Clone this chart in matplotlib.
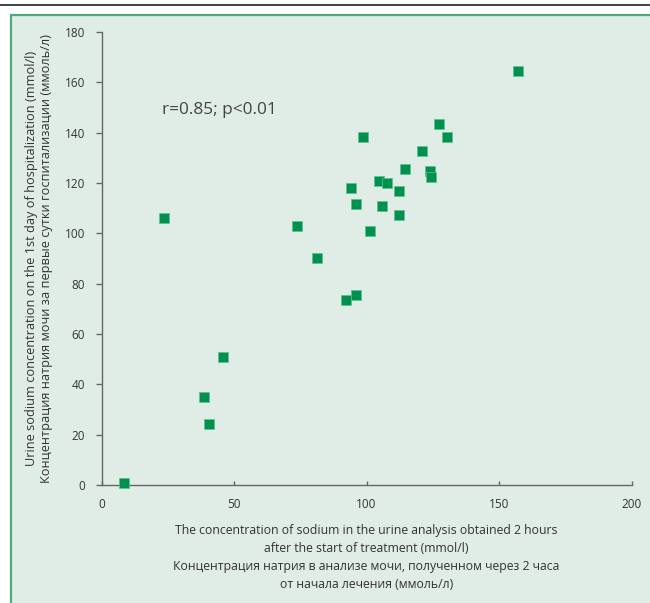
import matplotlib
matplotlib.use("Agg")
import matplotlib.pyplot as plt
from matplotlib.patches import Rectangle
from matplotlib.lines import Line2D

x_vals = [8.4, 23.4, 38.6, 40.5, 45.8, 73.7, 81.5, 92.2, 96.0, 94.1, 96.1, 98.6,
          101.4, 104.9, 105.9, 107.8, 112.2, 112.2, 114.5, 120.9, 123.9, 124.4,
          127.3, 130.2, 157.0]
y_vals = [0.9, 106.2, 34.8, 24.1, 50.7, 103.0, 90.2, 73.4, 75.4, 118.0, 111.8, 138.4,
          101.0, 120.9, 110.7, 120.0, 116.9, 107.1, 125.5, 132.8, 124.6, 122.5,
          143.5, 138.4, 164.6]
x_ticks = [0, 50, 100, 150, 200]
y_ticks = [0, 20, 40, 60, 80, 100, 120, 140, 160, 180]
annotation = "r=0.85; p<0.01"
ylabel = ("Urine sodium concentration on the 1st day of hospitalization (mmol/l)\n"
          "Концентрация натрия мочи за первые сутки госпитализации (ммоль/л)")
xlabel = ("The concentration of sodium in the urine analysis obtained 2 hours\n"
          "after the start of treatment (mmol/l)\n"
          "Концентрация натрия в анализе мочи, полученном через 2 часа\n"
          "от начала лечения (ммоль/л)")

plt.rcParams['font.family'] = ['Open Sans', 'DejaVu Sans']

W, H = 650, 603
fig = plt.figure(figsize=(W / 100, H / 100), dpi=100, facecolor='white')

# panel background
fig.patches.append(Rectangle((10.5 / W, -0.01), 1.0, 1 - 14.5 / H + 0.01,
                             transform=fig.transFigure, facecolor='#e0ede6',
                             edgecolor='#4caa7c', linewidth=1.6, zorder=-10))
fig.lines.append(Line2D([0, 1], [1 - 5 / H, 1 - 5 / H], transform=fig.transFigure,
                        color='#333333', linewidth=1.3, zorder=-10))

ax = fig.add_axes([101.5 / W, 1 - 485 / H, 530 / W, 453 / H])
ax.set_zorder(5)
ax.set_facecolor('none')
ax.scatter(x_vals, y_vals, marker='s', s=52, color='#009150',
           edgecolors='#5fc08c', linewidths=0.5, zorder=3, clip_on=False)

ax.set_xlim(0, 200)
ax.set_ylim(0, 180)
ax.set_xticks(x_ticks)
ax.set_yticks(y_ticks)
for s in ['top', 'right']:
    ax.spines[s].set_visible(False)
for s in ['left', 'bottom']:
    ax.spines[s].set_color('#666666')
    ax.spines[s].set_linewidth(1.0)
ax.tick_params(axis='y', direction='out', length=4, width=1, color='#666666',
               labelsize=8.5, labelcolor='#333333', pad=8)
ax.tick_params(axis='x', direction='in', length=3, width=1, color='#666666',
               labelsize=8.5, labelcolor='#333333', pad=9)

ax.text(23.0, 149, annotation, fontsize=12.4, color='#444444', ha='left', va='center')

ax.set_ylabel(ylabel, fontsize=9.2, color='#333333', linespacing=1.2, labelpad=8)
ax.set_xlabel(xlabel, fontsize=8.8, color='#333333', linespacing=1.5, labelpad=10)

fig.savefig('out.png', dpi=100, facecolor='white')
